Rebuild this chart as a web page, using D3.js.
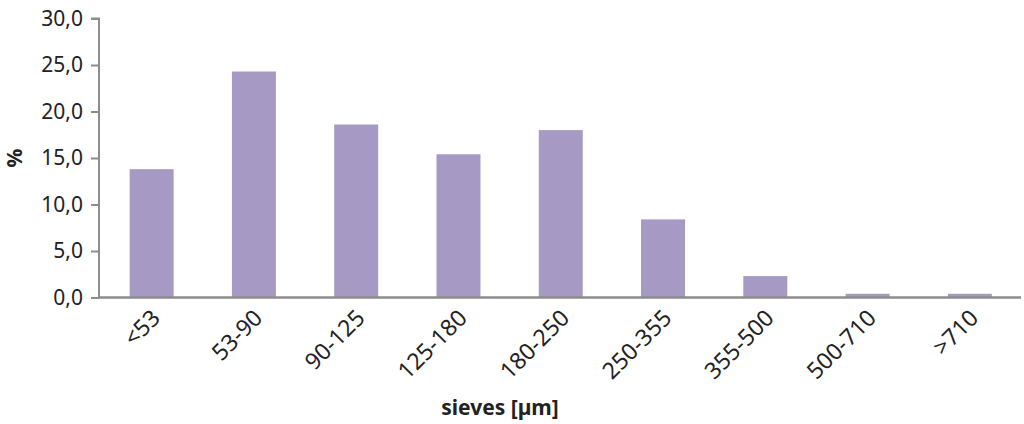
<!DOCTYPE html>
<html><head><meta charset="utf-8">
<script src="https://cdn.jsdelivr.net/npm/d3@7"></script>
<style>body{margin:0;background:#fff;}svg{display:block;}</style>
</head><body>
<script>
const categories = ["<53","53-90","90-125","125-180","180-250","250-355","355-500","500-710",">710"];
const values = [13.8,24.3,18.6,15.4,18.0,8.4,2.3,0.4,0.4];
const yTicks = [0,5,10,15,20,25,30];
const yTitle = "%";
const xTitle = "sieves [\u00b5m]";

const W=1024,H=424;
const m={left:99,right:3,top:18.5,bottom:126.5};
const svg=d3.select("body").append("svg").attr("width",W).attr("height",H);
const x=d3.scaleBand().domain(categories).range([m.left+1.5,W-m.right]).paddingInner(0.57).paddingOuter(0.285);
const y=d3.scaleLinear().domain([0,30]).range([H-m.bottom,m.top]);
const font='"Noto Sans", sans-serif';
const gray="#8d8d8d";

svg.selectAll("rect.bar").data(values).enter().append("rect")
  .attr("x",(d,i)=>x(categories[i])).attr("width",x.bandwidth())
  .attr("y",d=>y(d)).attr("height",d=>y(0)-y(d)).attr("fill","#a699c4");

const ya=svg.append("g").attr("transform",`translate(${m.left},0)`)
  .call(d3.axisLeft(y).tickValues(yTicks).tickSize(8).tickPadding(8).tickFormat(d=>d3.format(".1f")(d).replace(".",",")));
ya.select(".domain").attr("stroke",gray).attr("stroke-width",2).attr("d",`M-8,${y(30)}H0V${y(0)}`);
ya.selectAll(".tick line").attr("stroke",gray).attr("stroke-width",2);
ya.selectAll(".tick text").attr("font-family",font).attr("font-size",21).attr("fill","#222");

const xa=svg.append("g").attr("transform",`translate(0,${y(0)})`)
  .call(d3.axisBottom(x).tickSize(0).tickPadding(0));
xa.select(".domain").attr("stroke",gray).attr("stroke-width",2.5).attr("d",`M${m.left},0H${W-m.right}`);
xa.selectAll(".tick text").attr("font-family",font).attr("font-size",23).attr("fill","#222")
  .attr("text-anchor","end").attr("dy",0).attr("y",0)
  .attr("transform","translate(10,22) rotate(-45)");

svg.append("text").attr("x",500).attr("y",415).attr("text-anchor","middle")
  .attr("font-family",font).attr("font-weight","bold").attr("font-size",21).attr("fill","#222").text(xTitle);
svg.append("text").attr("transform",`translate(22,${(y(15)+0)}) rotate(-90)`).attr("text-anchor","middle")
  .attr("font-family",font).attr("font-weight","bold").attr("font-size",21).attr("fill","#222").text(yTitle);
</script>
</body></html>
